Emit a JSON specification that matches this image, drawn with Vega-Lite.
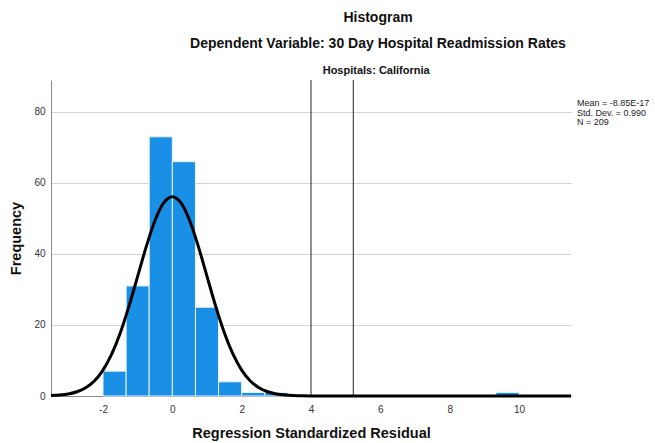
{
  "$schema": "https://vega.github.io/schema/vega-lite/v6.json",
  "width": 520,
  "height": 316,
  "autosize": "none",
  "padding": {"left": 51, "top": 80, "right": 84, "bottom": 47},
  "background": "white",
  "config": {
    "font": "Liberation Sans",
    "view": {"stroke": null},
    "axis": {"labelFont": "Liberation Sans", "titleFont": "Liberation Sans", "labelColor": "#333333", "titleColor": "#111111", "labelFontSize": 10, "titleFontSize": 14.5, "titleFontWeight": "bold", "ticks": false, "domainColor": "#8a8a8a", "gridColor": "#d4d4d4"}
  },
  "title": {
    "text": "Histogram",
    "subtitle": "Dependent Variable: 30 Day Hospital Readmission Rates",
    "anchor": "middle",
    "dx": 67,
    "offset": 14,
    "font": "Liberation Sans",
    "fontSize": 14,
    "fontWeight": "bold",
    "color": "#111111",
    "subtitleFont": "Liberation Sans",
    "subtitleFontSize": 14,
    "subtitleFontWeight": "bold",
    "subtitleColor": "#111111",
    "subtitlePadding": 12
  },
  "datasets": {
    "bins": [
      {"start": -2.0, "end": -1.333, "count": 7},
      {"start": -1.333, "end": -0.667, "count": 31},
      {"start": -0.667, "end": 0.0, "count": 73},
      {"start": 0.0, "end": 0.667, "count": 66},
      {"start": 0.667, "end": 1.333, "count": 25},
      {"start": 1.333, "end": 2.0, "count": 4},
      {"start": 2.0, "end": 2.667, "count": 1},
      {"start": 2.667, "end": 3.333, "count": 1},
      {"start": 9.333, "end": 10.0, "count": 1}
    ],
    "curve": [
      {"x": -3.5, "y": 0.11}, {"x": -3.25, "y": 0.26}, {"x": -3.0, "y": 0.57}, {"x": -2.75, "y": 1.19},
      {"x": -2.5, "y": 2.32}, {"x": -2.25, "y": 4.24}, {"x": -2.0, "y": 7.30}, {"x": -1.75, "y": 11.77},
      {"x": -1.5, "y": 17.81}, {"x": -1.25, "y": 25.30}, {"x": -1.0, "y": 33.71}, {"x": -0.75, "y": 42.13},
      {"x": -0.5, "y": 49.42}, {"x": -0.25, "y": 54.38}, {"x": 0.0, "y": 56.14}, {"x": 0.25, "y": 54.38},
      {"x": 0.5, "y": 49.42}, {"x": 0.75, "y": 42.13}, {"x": 1.0, "y": 33.71}, {"x": 1.25, "y": 25.30},
      {"x": 1.5, "y": 17.81}, {"x": 1.75, "y": 11.77}, {"x": 2.0, "y": 7.30}, {"x": 2.25, "y": 4.24},
      {"x": 2.5, "y": 2.32}, {"x": 2.75, "y": 1.19}, {"x": 3.0, "y": 0.57}, {"x": 3.25, "y": 0.26},
      {"x": 3.5, "y": 0.11}, {"x": 3.75, "y": 0.04}, {"x": 4.0, "y": 0.016}, {"x": 4.5, "y": 0.002},
      {"x": 5.0, "y": 0}, {"x": 6.0, "y": 0}, {"x": 7.0, "y": 0}, {"x": 8.0, "y": 0},
      {"x": 9.0, "y": 0}, {"x": 10.0, "y": 0}, {"x": 11.0, "y": 0}, {"x": 11.5, "y": 0}
    ],
    "vlines": [{"x": 4.0}, {"x": 5.22}]
  },
  "layer": [
    {
      "data": {"name": "bins"},
      "mark": {"type": "bar", "color": "#1a8fe6", "stroke": "#e8f3fc", "strokeWidth": 1},
      "encoding": {
        "x": {"field": "start", "type": "quantitative", "scale": {"domain": [-3.5, 11.5], "nice": false, "zero": false},
              "axis": {"values": [-2, 0, 2, 4, 6, 8, 10], "grid": false, "labelPadding": 8, "titlePadding": 12, "labelExpr": "'' + datum.value"},
              "title": "Regression Standardized Residual"},
        "x2": {"field": "end"},
        "y": {"field": "count", "type": "quantitative", "scale": {"domain": [0, 89], "nice": false},
              "axis": {"values": [0, 20, 40, 60, 80], "grid": true, "labelPadding": 6, "titlePadding": 10},
              "title": "Frequency"},
        "y2": {"datum": 0}
      }
    },
    {
      "data": {"name": "vlines"},
      "mark": {"type": "rule", "color": "#222222", "strokeWidth": 1},
      "encoding": {"x": {"field": "x", "type": "quantitative"}}
    },
    {
      "data": {"name": "curve"},
      "mark": {"type": "line", "color": "#000000", "strokeWidth": 3, "interpolate": "monotone"},
      "encoding": {
        "x": {"field": "x", "type": "quantitative"},
        "y": {"field": "y", "type": "quantitative"}
      }
    },
    {
      "data": {"values": [{}]},
      "mark": {"type": "text", "text": "Hospitals: California", "font": "Liberation Sans", "fontSize": 11, "fontWeight": "bold", "color": "#111111", "align": "center", "baseline": "middle"},
      "encoding": {
        "x": {"datum": 5.88, "type": "quantitative"},
        "y": {"datum": 91.5, "type": "quantitative"}
      }
    },
    {
      "data": {"values": [{}]},
      "mark": {"type": "text", "text": ["Mean = -8.85E-17", "Std. Dev. = 0.990", "N = 209"], "font": "Liberation Sans", "fontSize": 9, "lineHeight": 9.5, "color": "#222222", "align": "left", "baseline": "top"},
      "encoding": {
        "x": {"datum": 11.67, "type": "quantitative"},
        "y": {"datum": 83.6, "type": "quantitative"}
      }
    }
  ]
}
